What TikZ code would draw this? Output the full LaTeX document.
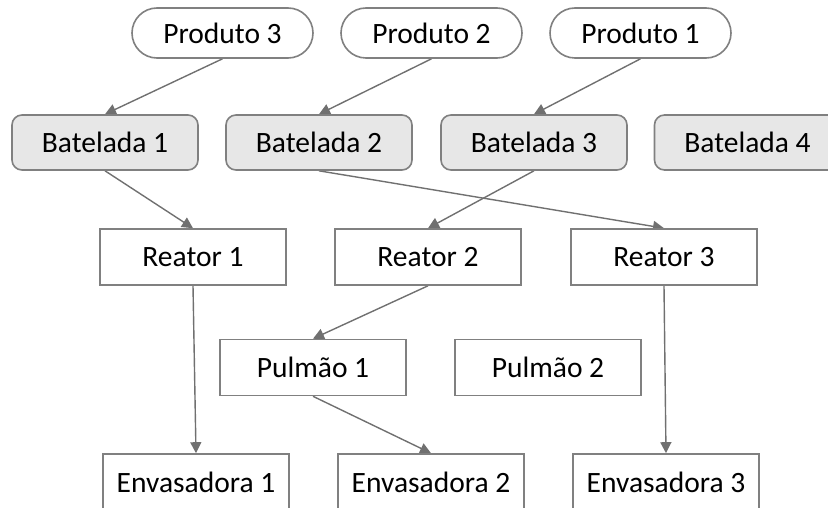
\documentclass[tikz,border=0pt]{standalone}
\usepackage{fontspec}
\setmainfont{Carlito}
\usetikzlibrary{arrows.meta,backgrounds}

\definecolor{edgegray}{RGB}{128,128,128}
\definecolor{linkgray}{RGB}{112,112,112}
\definecolor{batchfill}{RGB}{231,231,231}

\tikzset{
  box/.style={draw=edgegray, line width=1.6pt, fill=white, inner sep=0pt,
    minimum width=186pt, minimum height=56pt,
    font=\fontsize{29.5}{34}\selectfont, text=black},
  product/.style={box, rounded corners=25pt, minimum width=181pt, minimum height=50pt},
  batch/.style={box, fill=batchfill, rounded corners=10pt, minimum height=55pt},
  unit/.style={box},
  link/.style={draw=linkgray, line width=1.4pt,
    -{Triangle[length=11pt,width=11pt]}},
}

\begin{document}
\begin{tikzpicture}[x=1pt,y=-1pt]
  \useasboundingbox (0,0) rectangle (828,508);

  % products
  \node[product] (p3) at (222.5,33) {Produto 3};
  \node[product] (p2) at (431.5,33) {Produto 2};
  \node[product] (p1) at (640.5,33) {Produto 1};

  % batches
  \node[batch] (b1) at (105,142.5) {Batelada 1};
  \node[batch] (b2) at (319,142.5) {Batelada 2};
  \node[batch] (b3) at (534,142.5) {Batelada 3};
  \node[batch] (b4) at (747.5,142.5) {Batelada 4};

  % reactors
  \node[unit] (r1) at (193,257) {Reator 1};
  \node[unit] (r2) at (428,257) {Reator 2};
  \node[unit] (r3) at (664,257) {Reator 3};

  % buffer tanks
  \node[unit] (t1) at (313,367.5) {Pulmão 1};
  \node[unit] (t2) at (548,367.5) {Pulmão 2};

  % filling machines
  \node[unit] (e1) at (196,482) {Envasadora 1};
  \node[unit] (e2) at (431,482) {Envasadora 2};
  \node[unit] (e3) at (666,482) {Envasadora 3};

  % flows, kept behind the boxes
  \begin{scope}[on background layer]
    \draw[link] (p3.south) -- (b1.north);
    \draw[link] (p2.south) -- (b2.north);
    \draw[link] (p1.south) -- (b3.north);
    \draw[link] (b1.south) -- (r1.north);
    \draw[link] (b2.south) -- (r3.north);
    \draw[link] (b3.south) -- (r2.north);
    \draw[link] (r1.south) -- (e1.north);
    \draw[link] (r2.south) -- (t1.north);
    \draw[link] (r3.south) -- (e3.north);
    \draw[link] (t1.south) -- (e2.north);
  \end{scope}
\end{tikzpicture}
\end{document}
